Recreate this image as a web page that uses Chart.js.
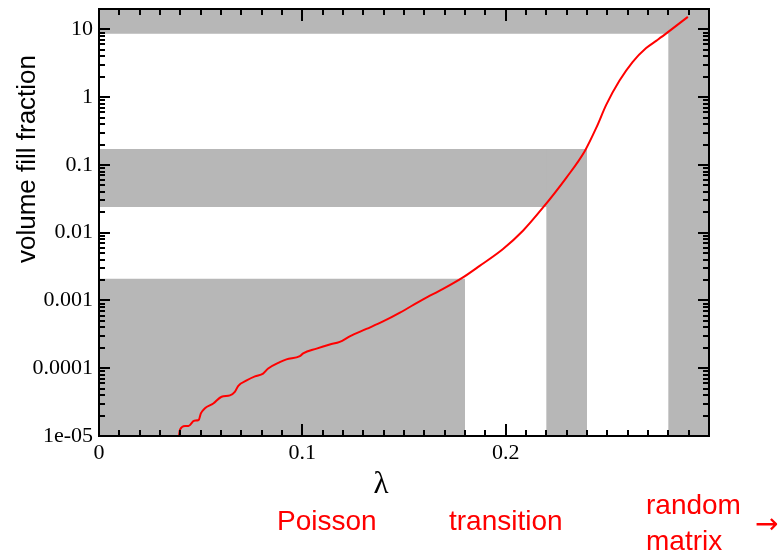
<!DOCTYPE html>
<html>
<head>
<meta charset="utf-8">
<script src="https://cdn.jsdelivr.net/npm/chart.js@4"></script>
<style>
  body { margin: 0; background: #fff; }
</style>
</head>
<body>
<canvas id="chart" width="781" height="553"></canvas>
<script>
// curve
const lambda = [0.0393, 0.0398, 0.0423, 0.0440, 0.0468, 0.0490, 0.0501, 0.0521, 0.0562, 0.0603,
  0.0644, 0.0668, 0.0685, 0.0726, 0.0767, 0.0807, 0.0832, 0.0889, 0.0922, 0.0988,
  0.1004, 0.107, 0.1135, 0.1184, 0.1233, 0.1315, 0.1397, 0.148, 0.1594, 0.1692,
  0.179, 0.1872, 0.1987, 0.2085, 0.2183, 0.2298, 0.2388, 0.2446, 0.2495, 0.256,
  0.2624, 0.2691, 0.2742, 0.279, 0.2896];
const fillFraction = [1.0e-5, 1.23e-5, 1.41e-5, 1.41e-5, 1.68e-5, 1.72e-5, 2.16e-5, 2.57e-5, 3.02e-5, 3.80e-5,
  3.98e-5, 4.47e-5, 5.50e-5, 6.61e-5, 7.59e-5, 8.32e-5, 9.9e-5, 1.23e-4, 1.35e-4, 1.51e-4,
  1.66e-4, 1.95e-4, 2.24e-4, 2.45e-4, 2.95e-4, 3.80e-4, 4.90e-4, 6.61e-4, 1.04e-3, 1.48e-3,
  2.19e-3, 3.24e-3, 5.75e-3, 1.07e-2, 2.34e-2, 6.46e-2, 0.158, 0.355, 0.776, 1.76,
  3.30, 5.30, 6.84, 8.73, 15.3];

// grey regions: [lambda from, to] x [fraction from, to]
const bandLambda = [[0, 0.18], [0.22, 0.24], [0, 0.24], [0.28, 0.3], [0, 0.3]];
const bandFraction = [[1e-5, 0.0021], [1e-5, 0.172], [0.024, 0.172], [1e-5, 20], [8.6, 20]];

const xTicks = [0, 0.1, 0.2];
const xTickLabels = ['0', '0.1', '0.2'];
const yTicks = [1e-5, 1e-4, 1e-3, 0.01, 0.1, 1, 10];
const yTickLabels = ['1e-05', '0.0001', '0.001', '0.01', '0.1', '1', '10'];
const regimes = ['Poisson', 'transition', ['random', 'matrix']];

const curve = lambda.map((x, i) => ({ x: x, y: fillFraction[i] }));

const bandSets = bandLambda.map((bx, i) => {
  const by = bandFraction[i];
  return {
    data: [{x: bx[0], y: by[0]}, {x: bx[1], y: by[0]}, {x: bx[1], y: by[1]}, {x: bx[0], y: by[1]}, {x: bx[0], y: by[0]}],
    backgroundColor: '#b7b7b7',
    borderWidth: 0,
    pointRadius: 0,
    fill: 'shape',
    tension: 0,
    order: 1
  };
});

// frame, inward ticks and the free text
const decor = {
  id: 'decor',
  afterDatasetsDraw(chart) {
    const ctx = chart.ctx;
    const a = chart.chartArea;
    const xs = chart.scales.x, ys = chart.scales.y;
    ctx.save();
    ctx.strokeStyle = '#000';
    ctx.lineWidth = 2;
    ctx.beginPath();
    // x ticks, top and bottom
    for (let k = 0; k <= 30; k++) {
      const px = Math.round(xs.getPixelForValue(k / 100));
      const len = k % 10 === 0 ? 12 : 6;
      ctx.moveTo(px, a.bottom); ctx.lineTo(px, a.bottom - len);
      ctx.moveTo(px, a.top); ctx.lineTo(px, a.top + len);
    }
    // log y ticks, left and right
    for (let e = -5; e <= 1; e++) {
      for (let m = 1; m <= 9; m++) {
        const v = m * Math.pow(10, e);
        if (v > 20) continue;
        const py = Math.round(ys.getPixelForValue(v));
        const len = m === 1 ? 11 : 6;
        ctx.moveTo(a.left, py); ctx.lineTo(a.left + len, py);
        ctx.moveTo(a.right, py); ctx.lineTo(a.right - len, py);
      }
    }
    ctx.stroke();
    ctx.strokeRect(a.left, a.top, a.right - a.left, a.bottom - a.top);

    ctx.fillStyle = '#000';
    ctx.font = '26px "Liberation Sans", Arial, sans-serif';
    ctx.textAlign = 'center';
    ctx.textBaseline = 'alphabetic';
    ctx.save();
    ctx.translate(35, 159);
    ctx.rotate(-Math.PI / 2);
    ctx.fillText('volume fill fraction', 0, 0);
    ctx.restore();

    ctx.font = '31px "Liberation Serif", serif';
    ctx.fillText('λ', 381, 493);

    ctx.fillStyle = '#ff0000';
    ctx.textAlign = 'left';
    ctx.font = '28px "Liberation Sans", Arial, sans-serif';
    ctx.fillText(regimes[0], 277, 530);
    ctx.fillText(regimes[1], 449, 530);
    ctx.fillText(regimes[2][0], 646, 514);
    ctx.fillText(regimes[2][1], 646, 550);
    ctx.font = '28px "DejaVu Sans", sans-serif';
    ctx.fillText('→', 755, 533);
    ctx.restore();
  }
};

new Chart(document.getElementById('chart'), {
  type: 'line',
  data: {
    datasets: [{
      data: curve,
      borderColor: '#ff0000',
      borderWidth: 2,
      pointRadius: 0,
      fill: false,
      cubicInterpolationMode: 'monotone',
      order: 0
    }].concat(bandSets)
  },
  options: {
    responsive: false,
    animation: false,
    devicePixelRatio: 1,
    layout: { padding: { left: 0, top: 9, right: 72, bottom: 0 } },
    plugins: { legend: { display: false }, tooltip: { enabled: false } },
    scales: {
      x: {
        type: 'linear',
        min: 0,
        max: 0.3,
        grid: { display: false, drawTicks: false },
        border: { display: false },
        afterBuildTicks: s => { s.ticks = xTicks.map(v => ({ value: v })); },
        afterFit: s => { s.height = 117; s.paddingLeft = 0; s.paddingRight = 0; },
        ticks: {
          padding: 4,
          maxRotation: 0,
          autoSkip: false,
          color: '#000',
          font: { family: '"Liberation Serif", serif', size: 22 },
          callback: (v, i) => xTickLabels[i]
        }
      },
      y: {
        type: 'logarithmic',
        min: 1e-5,
        max: 20,
        grid: { display: false, drawTicks: false },
        border: { display: false },
        afterBuildTicks: s => { s.ticks = yTicks.map(v => ({ value: v })); },
        afterFit: s => { s.width = 99; s.paddingTop = 0; s.paddingBottom = 0; },
        ticks: {
          padding: 6,
          autoSkip: false,
          color: '#000',
          font: { family: '"Liberation Serif", serif', size: 22 },
          callback: (v, i) => yTickLabels[i]
        }
      }
    }
  },
  plugins: [decor]
});
</script>
</body>
</html>
